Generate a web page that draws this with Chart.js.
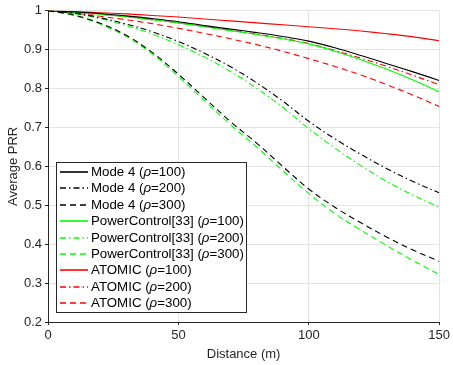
<!DOCTYPE html>
<html>
<head>
<meta charset="utf-8">
<script src="https://cdn.jsdelivr.net/npm/chart.js@4.4.1/dist/chart.umd.min.js"></script>
<style>
  html, body { margin: 0; padding: 0; background: #fff; }
  #wrap { width: 453px; height: 365px; }
</style>
</head>
<body>
<div id="wrap"><canvas id="prr" width="453" height="365"></canvas></div>
<script>
const distances = [0, 10, 20, 30, 40, 50, 60, 70, 80, 90, 100, 110, 120, 130, 140, 150];

const mode4Rho100 = [1, 0.997, 0.993, 0.987, 0.98, 0.972, 0.962, 0.953, 0.944, 0.934, 0.922, 0.905, 0.885, 0.864, 0.843, 0.821];
const mode4Rho200 = [1, 0.994, 0.982, 0.966, 0.946, 0.921, 0.891, 0.856, 0.815, 0.768, 0.716, 0.671, 0.631, 0.594, 0.561, 0.532];
const mode4Rho300 = [1, 0.989, 0.968, 0.937, 0.893, 0.837, 0.776, 0.715, 0.66, 0.6, 0.542, 0.495, 0.455, 0.418, 0.385, 0.356];

const powerRho100 = [1, 0.996, 0.991, 0.985, 0.977, 0.969, 0.959, 0.949, 0.939, 0.928, 0.915, 0.896, 0.874, 0.85, 0.822, 0.792];
const powerRho200 = [1, 0.993, 0.98, 0.962, 0.94, 0.913, 0.881, 0.844, 0.801, 0.752, 0.697, 0.647, 0.602, 0.561, 0.526, 0.495];
const powerRho300 = [1, 0.988, 0.966, 0.934, 0.889, 0.831, 0.769, 0.707, 0.65, 0.589, 0.53, 0.479, 0.436, 0.396, 0.358, 0.322];

const atomicRho100 = [1, 0.998, 0.995, 0.992, 0.988, 0.984, 0.979, 0.974, 0.969, 0.964, 0.959, 0.954, 0.948, 0.941, 0.933, 0.923];
const atomicRho200 = [1, 0.996, 0.991, 0.985, 0.977, 0.969, 0.96, 0.95, 0.94, 0.929, 0.916, 0.898, 0.878, 0.857, 0.834, 0.81];
const atomicRho300 = [1, 0.994, 0.986, 0.977, 0.967, 0.955, 0.942, 0.928, 0.913, 0.896, 0.877, 0.857, 0.835, 0.81, 0.783, 0.754];

const seriesNames = [
  ["Mode 4 (", "=100)"], ["Mode 4 (", "=200)"], ["Mode 4 (", "=300)"],
  ["PowerControl[33] (", "=100)"], ["PowerControl[33] (", "=200)"], ["PowerControl[33] (", "=300)"],
  ["ATOMIC (", "=100)"], ["ATOMIC (", "=200)"], ["ATOMIC (", "=300)"]
];
const seriesValues = [mode4Rho100, mode4Rho200, mode4Rho300, powerRho100, powerRho200, powerRho300, atomicRho100, atomicRho200, atomicRho300];

const COLORS = ["#000000", "#000000", "#000000", "#00ff00", "#00ff00", "#00ff00", "#ff0000", "#ff0000", "#ff0000"];
const DASH_SOLID = [];
const DASH_DASHDOT = [6, 3, 1.5, 3];
const DASH_DASHED = [6, 4];
const DASHES = [DASH_SOLID, DASH_DASHDOT, DASH_DASHED, DASH_SOLID, DASH_DASHDOT, DASH_DASHED, DASH_SOLID, DASH_DASHDOT, DASH_DASHED];

const FONT = "'Liberation Sans', Arial, Helvetica, sans-serif";
const TEXT_COLOR = "#262626";

const datasets = seriesValues.map((vals, i) => ({
  label: seriesNames[i].join("\u03c1"),
  data: distances.map((d, j) => ({ x: d, y: vals[j] })),
  borderColor: COLORS[i],
  borderWidth: 1.1,
  borderDash: DASHES[i],
  pointRadius: 0,
  tension: 0.35,
  fill: false,
}));

// legend drawn inside the plot, lower left, like the matlab figure
const insideLegend = {
  id: "insideLegend",
  afterDatasetsDraw(chart) {
    const ctx = chart.ctx;
    const area = chart.chartArea;
    const boxX = area.left + 8;
    const boxW = 190;
    const rowH = 16.4;
    const boxH = 150;
    const boxY = area.bottom - 10 - boxH;
    ctx.save();
    ctx.fillStyle = "#ffffff";
    ctx.fillRect(boxX, boxY, boxW, boxH);
    ctx.strokeStyle = "#262626";
    ctx.lineWidth = 1;
    ctx.setLineDash([]);
    ctx.strokeRect(boxX + 0.5, boxY + 0.5, boxW, boxH);
    ctx.textBaseline = "middle";
    seriesNames.forEach((parts, i) => {
      const y = Math.round(boxY + 10 + i * rowH);
      ctx.strokeStyle = COLORS[i];
      ctx.lineWidth = 1.6;
      ctx.setLineDash(DASHES[i]);
      ctx.beginPath();
      ctx.moveTo(boxX + 4, y);
      ctx.lineTo(boxX + 32, y);
      ctx.stroke();
      ctx.setLineDash([]);
      ctx.fillStyle = "#000000";
      let tx = boxX + 35;
      ctx.font = "13.3px " + FONT;
      ctx.fillText(parts[0], tx, y);
      tx += ctx.measureText(parts[0]).width;
      ctx.font = "italic 13.3px " + FONT;
      ctx.fillText("\u03c1", tx, y);
      tx += ctx.measureText("\u03c1").width;
      ctx.font = "13.3px " + FONT;
      ctx.fillText(parts[1], tx, y);
    });
    ctx.restore();
  },
};

const ctx = document.getElementById("prr").getContext("2d");
new Chart(ctx, {
  type: "line",
  data: { datasets: datasets },
  options: {
    responsive: false,
    animation: false,
    layout: { padding: { top: 10, right: 10, left: 0, bottom: 0 } },
    plugins: { legend: { display: false }, tooltip: { enabled: false } },
    scales: {
      x: {
        type: "linear",
        min: 0,
        max: 150,
        afterFit: (scale) => { scale.height = 43; },
        ticks: { stepSize: 50, color: TEXT_COLOR, font: { family: FONT, size: 13 }, padding: 3, maxRotation: 0 },
        grid: { color: "#e3e3e3", tickLength: 3, tickColor: "#262626" },
        border: { color: "#262626", width: 1 },
        title: { display: true, text: "Distance (m)", color: TEXT_COLOR, font: { family: FONT, size: 13 }, padding: { top: 2, bottom: 3 } },
      },
      y: {
        min: 0.2,
        max: 1,
        afterFit: (scale) => { scale.width = 48; },
        ticks: {
          stepSize: 0.1,
          color: TEXT_COLOR,
          font: { family: FONT, size: 13 },
          padding: 3,
          callback: (v) => String(Math.round(v * 10) / 10),
        },
        grid: { color: "#e3e3e3", tickLength: 3, tickColor: "#262626" },
        border: { color: "#262626", width: 1 },
        title: { display: true, text: "Average PRR", color: TEXT_COLOR, font: { family: FONT, size: 13 }, padding: { top: 6, bottom: 0 } },
      },
    },
  },
  plugins: [insideLegend],
});
</script>
</body>
</html>
